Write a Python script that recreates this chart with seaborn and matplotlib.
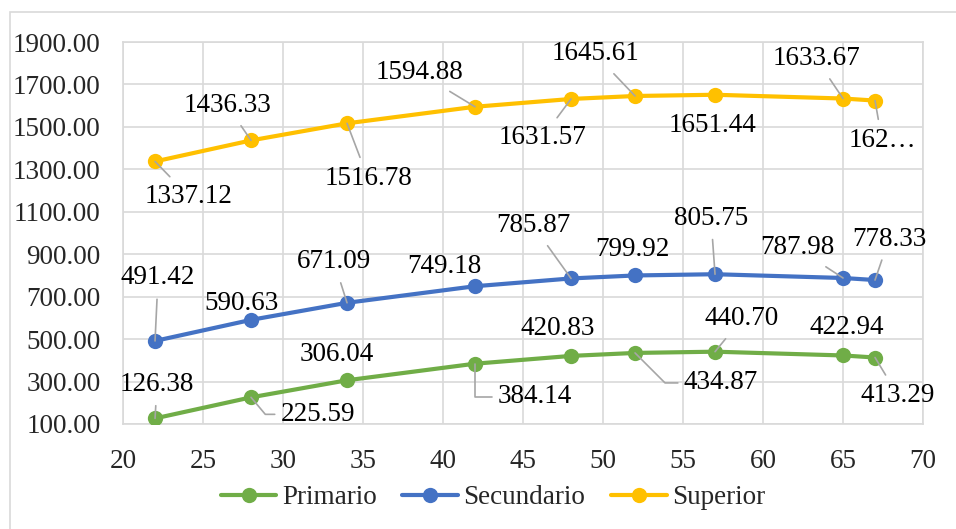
import pandas as pd
import seaborn as sns
import matplotlib.pyplot as plt
from matplotlib.lines import Line2D
from matplotlib.patches import Rectangle

# datos
edad = [22, 28, 34, 42, 48, 52, 57, 65, 67]
primario = [126.38, 225.59, 306.04, 384.14, 420.83, 434.87, 440.70, 422.94, 413.29]
secundario = [491.42, 590.63, 671.09, 749.18, 785.87, 799.92, 805.75, 787.98, 778.33]
superior = [1337.12, 1436.33, 1516.78, 1594.88, 1631.57, 1645.61, 1651.44, 1633.67, 1624.03]
series = ["Primario", "Secundario", "Superior"]
colores = {"Primario": "#70AD47", "Secundario": "#4472C4", "Superior": "#FFC000"}

df = pd.DataFrame({
    "edad": edad * 3,
    "valor": primario + secundario + superior,
    "nivel": ["Primario"] * 9 + ["Secundario"] * 9 + ["Superior"] * 9,
})

# posiciones de etiquetas (dx, dy en pixeles, dy hacia abajo) y tipo de guia
pos_etiquetas = {
    "Superior": [(34, 35, "s"), (-24, -35, "s"), (21, 55, "s"), (-56, -34, "s"), (-29, 39, "s"),
                 (-40, -42, "s"), (-3, 31, None), (-27, -40, "s"), (7, 40, "s")],
    "Secundario": [(3, -63, "s"), (-10, -16, None), (-13, -41, "s"), (-31, -20, None), (-38, -53, "s"),
                   (-3, -26, None), (-4, -56, "s"), (-46, -30, "s"), (14, -41, "s")],
    "Primario": [(2, -34, "s"), (67, 17, 130), (-10, -26, None), (60, 33, 90), (-13, -27, None),
                 (86, 30, 135), (27, -33, "s"), (4, -28, None), (23, 38, "s")],
}

sns.set_style("white")
plt.rcParams["font.family"] = ["Liberation Serif", "DejaVu Serif"]
fs = 19.5

fig = plt.figure(figsize=(9.56, 5.29), dpi=100)
ax = fig.add_axes([0.1287, 0.1985, 0.8368, 0.7221])

sns.lineplot(data=df, x="edad", y="valor", hue="nivel", palette=colores, marker="o",
             markersize=11, markeredgewidth=0, linewidth=3, legend=False, ax=ax, zorder=3)

ax.set_xlim(20, 70)
ax.set_ylim(100, 1900)
ax.set_xticks(range(20, 71, 5))
ax.set_yticks(range(100, 1901, 200))
ax.set_yticklabels([f"{v:.2f}" for v in range(100, 1901, 200)])
ax.grid(True, color="#d9d9d9", linewidth=1.2)
ax.set_axisbelow(True)
for s in ax.spines.values():
    s.set_color("#d9d9d9")
    s.set_linewidth(1.2)
ax.tick_params(length=0, labelsize=fs)
ax.tick_params(axis="x", pad=18)
ax.tick_params(axis="y", pad=16)
ax.set_xlabel("")
ax.set_ylabel("")

valores = {"Primario": primario, "Secundario": secundario, "Superior": superior}
for nivel in series:
    for i, (x, y) in enumerate(zip(edad, valores[nivel])):
        dx, dy, guia = pos_etiquetas[nivel][i]
        texto = f"{y:.2f}"
        if nivel == "Superior" and i == len(edad) - 1:
            texto = "162…"
        props = None
        if guia == "s":
            props = dict(arrowstyle="-", color="#a6a6a6", lw=1.2, shrinkA=4, shrinkB=0)
        elif guia is not None:
            props = dict(arrowstyle="-", color="#a6a6a6", lw=1.2, shrinkA=2, shrinkB=0,
                         relpos=(0, 0.5),
                         connectionstyle=f"angle,angleA=180,angleB={guia},rad=0")
        ax.annotate(texto, xy=(x, y), xytext=(dx, -dy), textcoords="offset pixels",
                    ha="center", va="center", fontsize=fs, color="black",
                    arrowprops=props, zorder=4)

handles = [Line2D([], [], color=colores[n], marker="o", markersize=11, markeredgewidth=0,
                  linewidth=3) for n in series]
ax.legend(handles, series, loc="center", bbox_to_anchor=(0.4625, -0.1937),
          ncol=3, frameon=False, fontsize=fs, handlelength=2.06, handletextpad=0.2,
          columnspacing=0.95, bbox_transform=ax.transAxes)

fig.patches.append(Rectangle((0.0105, -0.05), 1.0, 0.9773 + 0.05, transform=fig.transFigure,
                             fill=False, edgecolor="#d9d9d9", linewidth=1.2))

plt.savefig("out.png", dpi=100)
